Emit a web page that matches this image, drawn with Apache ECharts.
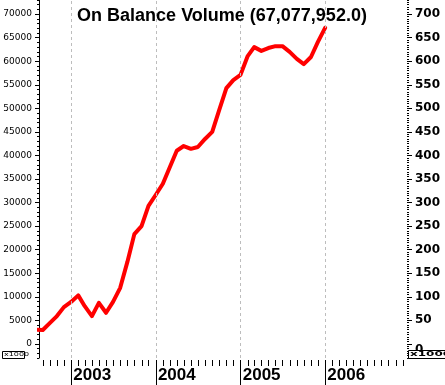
<!DOCTYPE html>
<html><head><meta charset="utf-8">
<script src="https://cdn.jsdelivr.net/npm/echarts@6/dist/echarts.min.js"></script>
<style>html,body{margin:0;padding:0;background:#fff}#c{width:445px;height:385px}</style>
</head><body><div id="c"></div>
<script>
// Month-end dates and On Balance Volume values (in thousands)
const dates = [
  '2002-07-31','2002-08-31','2002-09-30','2002-10-31','2002-11-30','2002-12-31',
  '2003-01-31','2003-02-28','2003-03-31','2003-04-30','2003-05-31','2003-06-30',
  '2003-07-31','2003-08-31','2003-09-30','2003-10-31','2003-11-30','2003-12-31',
  '2004-01-31','2004-02-29','2004-03-31','2004-04-30','2004-05-31','2004-06-30',
  '2004-07-31','2004-08-31','2004-09-30','2004-10-31','2004-11-30','2004-12-31',
  '2005-01-31','2005-02-28','2005-03-31','2005-04-30','2005-05-31','2005-06-30',
  '2005-07-31','2005-08-31','2005-09-30','2005-10-31','2005-11-30','2005-12-31'
];
const obv = [
  3000, 2950, 4400, 5900, 7800, 8900,
  10300, 8000, 5900, 8700, 6600, 8900,
  11900, 17400, 23300, 25000, 29300, 31600,
  34000, 37400, 41000, 42000, 41400, 41800,
  43500, 45000, 49600, 54300, 56000, 57100,
  61100, 63000, 62200, 62800, 63200, 63200,
  62000, 60500, 59400, 60900, 64100, 67078
];
const years = ['2003','2004','2005','2006'];
const leftTicks = [0,5000,10000,15000,20000,25000,30000,35000,40000,45000,50000,55000,60000,65000,70000];
const rightTicks = [0,50,100,150,200,250,300,350,400,450,500,550,600,650,700];
const titleText = 'On Balance Volume (67,077,952.0)';

const DAY = 86400000;
const ts = s => Date.parse(s + 'T00:00:00Z');
const yearStarts = years.map(y => ts(y + '-01-01'));
const xMin = yearStarts[0] - 139.3 * DAY;
const xMax = xMin + 1587.6 * DAY;
const monthStarts = [];
for (let y = 2002; y <= 2006; y++) for (let m = 0; m < 12; m++) {
  const t = Date.UTC(y, m, 1);
  if (t > xMin && t < xMax) monthStarts.push(t);
}
const seriesData = dates.map((d, i) => [ts(d), obv[i]]);

const chart = echarts.init(document.getElementById('c'), null, {renderer: 'canvas'});
chart.setOption({
  animation: false,
  backgroundColor: '#fff',
  title: {
    text: titleText, left: 217, textAlign: 'center', top: 2,
    textStyle: {fontFamily: 'Liberation Sans', fontWeight: 'bold', fontSize: 18, color: '#000'}
  },
  grid: {left: 39, right: 38, top: 0, bottom: 27, containLabel: false},
  xAxis: [
    {type: 'value', min: xMin, max: xMax, offset: 2, position: 'bottom',
     axisLine: {show: false, onZero: false}, splitLine: {show: false},
     axisTick: {show: true, customValues: monthStarts, length: 6, lineStyle: {color: '#000', width: 1}},
     axisLabel: {show: false}},
    {type: 'value', min: xMin, max: xMax, offset: 2, position: 'bottom',
     axisLine: {show: false, onZero: false}, splitLine: {show: false},
     axisTick: {show: true, customValues: yearStarts, length: 25, lineStyle: {color: '#000', width: 1}},
     axisLabel: {show: true, customValues: yearStarts, align: 'left', margin: 7,
       padding: [0, 0, 0, 2],
       formatter: v => String(new Date(v).getUTCFullYear()),
       fontFamily: 'Liberation Sans', fontWeight: 'bold', fontSize: 17, color: '#000'}}
  ],
  yAxis: [
    {type: 'value', min: -3000, max: 73000, interval: 1000, position: 'left',
     axisLine: {show: true, onZero: false, lineStyle: {color: '#000', width: 1}},
     axisTick: {show: true, length: 2, lineStyle: {color: '#000'}},
     axisLabel: {show: false}, splitLine: {show: false}},
    {type: 'value', min: -3000, max: 73000, position: 'left',
     axisLine: {show: false, onZero: false},
     axisTick: {show: true, customValues: leftTicks, length: 4, lineStyle: {color: '#000'}},
     axisLabel: {show: true, customValues: leftTicks, margin: 7, formatter: v => String(v),
       fontFamily: 'DejaVu Sans', fontSize: 9, color: '#000'},
     splitLine: {show: false}},
    {type: 'value', min: -30, max: 730, interval: 5, position: 'right',
     axisLine: {show: false, onZero: false},
     axisTick: {show: true, length: 2, lineStyle: {color: '#000'}},
     axisLabel: {show: false}, splitLine: {show: false}},
    {type: 'value', min: -30, max: 730, position: 'right',
     axisLine: {show: false, onZero: false},
     axisTick: {show: true, customValues: rightTicks, length: 5, lineStyle: {color: '#000'}},
     axisLabel: {show: true, customValues: rightTicks, margin: 8,
       formatter: v => (v === 0 ? '{z|0}' : String(v)),
       rich: {z: {padding: [13, 0, 0, 0], fontFamily: 'DejaVu Sans', fontWeight: 'bold', fontSize: 12, color: '#000'}},
       fontFamily: 'DejaVu Sans', fontWeight: 'bold', fontSize: 12, color: '#000'},
     splitLine: {show: false}}
  ],
  series: [{
    type: 'line', xAxisIndex: 0, yAxisIndex: 0, data: seriesData,
    showSymbol: false, symbol: 'none', clip: true,
    lineStyle: {color: '#ff0000', width: 4, join: 'round', cap: 'round'},
    z: 3,
    markLine: {
      silent: true, symbol: 'none', animation: false,
      label: {show: false},
      lineStyle: {color: '#bdbdbd', type: [3, 3], width: 1},
      data: yearStarts.map(t => ({xAxis: t}))
    }
  }],
  graphic: [
    {type: 'rect', left: 2, top: 351, shape: {width: 22, height: 7}, style: {fill: '#fff', stroke: '#000', lineWidth: 1}, z: 100},
    {type: 'text', left: 4, top: 351.5, scaleY: 0.75, style: {text: 'x1000', font: '8px "DejaVu Sans"', fill: '#000'}, z: 101},
    {type: 'rect', left: 408, top: 350, shape: {width: 45, height: 8}, style: {fill: '#fff', stroke: '#000', lineWidth: 1}, z: 100},
    {type: 'text', left: 410, top: 350.5, scaleY: 0.6, style: {text: 'x1000', font: 'bold 12px "DejaVu Sans"', fill: '#000'}, z: 101}
  ]
});
</script>
</body></html>
